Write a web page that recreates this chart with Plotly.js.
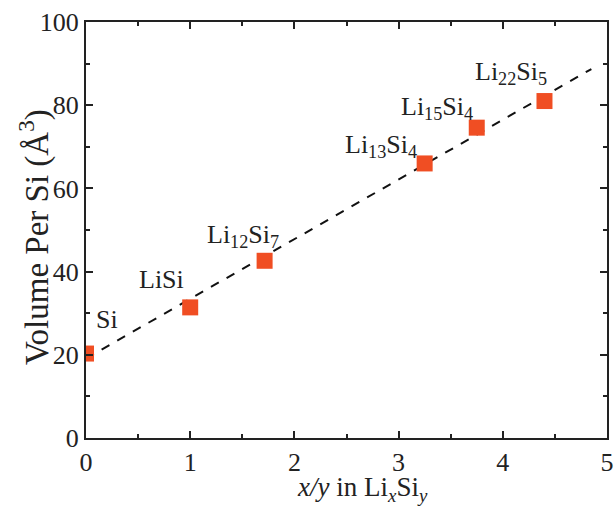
<!DOCTYPE html>
<html>
<head>
<meta charset="utf-8">
<script src="https://cdn.plot.ly/plotly-3.0.1.min.js"></script>
<style>html,body{margin:0;padding:0;background:#fff;}#chart{width:614px;height:508px;}</style>
</head>
<body>
<div id="chart"></div>
<script>
// Data
const phases = ["Si", "LiSi", "Li<sub>12</sub>Si<sub>7</sub>", "Li<sub>13</sub>Si<sub>4</sub>", "Li<sub>15</sub>Si<sub>4</sub>", "Li<sub>22</sub>Si<sub>5</sub>"];
const ratioXY = [0, 1, 1.714, 3.25, 3.75, 4.4];
const volumePerSi = [20.3, 31.4, 42.6, 66.0, 74.6, 81.0];
const fitX = [0, 4.85];
const fitY = [19.1, 88.7];
const labelX = [0.2, 0.72, 1.51, 2.83, 3.37, 4.08];
const labelY = [28.5, 38.2, 48.6, 70.2, 79.3, 87.8];
const xTitle = "<i>x/y</i> in Li<sub><i>x</i></sub>Si<sub><i>y</i></sub>";
const yTitle = "Volume Per Si (Å<sup>3</sup>)";

const font = "Liberation Serif";
const traces = [
  {x: fitX, y: fitY, mode: "lines", line: {color: "#111", width: 2, dash: "dash"}, hoverinfo: "skip"},
  {x: ratioXY, y: volumePerSi, mode: "markers", marker: {symbol: "square", size: 16, color: "#F04E23"}, cliponaxis: true}
];
const annotations = phases.map((p, i) => ({
  x: labelX[i], y: labelY[i], xref: "x", yref: "y", text: p, showarrow: false,
  font: {family: font, size: 26, color: "#222"}
}));
// axis titles placed as annotations for precise positioning
annotations.push({
  xref: "paper", yref: "paper", x: 0.53, y: -0.123, xanchor: "center", yanchor: "middle",
  text: xTitle, showarrow: false, borderpad: 0, font: {family: font, size: 27, color: "#222"}
});
annotations.push({
  xref: "paper", yref: "paper", x: -0.1, y: 0.483, xanchor: "center", yanchor: "middle",
  text: yTitle, textangle: -90, showarrow: false, font: {family: font, size: 33, color: "#222"}
});
const axisCommon = {
  showline: true, linecolor: "#222", linewidth: 2, mirror: "allticks",
  ticks: "inside", ticklen: 7, tickwidth: 2, tickcolor: "#222",
  showgrid: false, zeroline: false,
  tickfont: {family: font, size: 26, color: "#222"}
};
const layout = {
  width: 614, height: 508,
  margin: {l: 86, r: 7, t: 22, b: 70},
  paper_bgcolor: "#fff", plot_bgcolor: "#fff",
  font: {family: font},
  showlegend: false,
  xaxis: Object.assign({}, axisCommon, {
    range: [0, 5], dtick: 1, tick0: 0,
    minor: {dtick: 0.5, ticks: "inside", ticklen: 4, tickwidth: 2, tickcolor: "#222", showgrid: false}
  }),
  yaxis: Object.assign({}, axisCommon, {
    range: [0, 100], dtick: 20, tick0: 0,
    minor: {dtick: 10, ticks: "inside", ticklen: 4, tickwidth: 2, tickcolor: "#222", showgrid: false}
  }),
  annotations: annotations
};
Plotly.newPlot("chart", traces, layout, {displayModeBar: false, staticPlot: true});
</script>
</body>
</html>
